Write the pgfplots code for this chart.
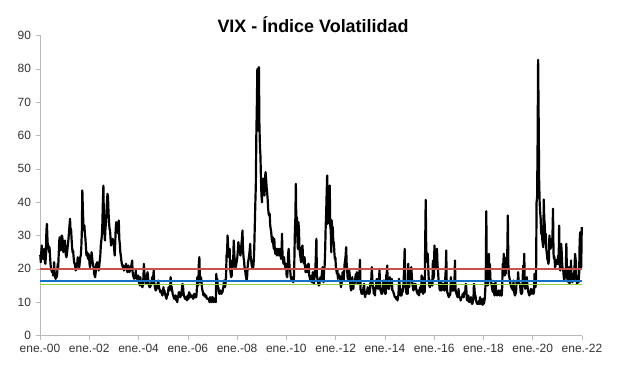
\documentclass[border=0pt]{standalone}
\usepackage{pgfplots}
\usepackage{pgfplotstable}
\pgfplotsset{compat=1.18}
\usepackage{fontspec}
\setmainfont{Liberation Sans}
\definecolor{lred}{RGB}{200,80,77}
\definecolor{lblue}{RGB}{20,115,200}
\definecolor{lgreen}{RGB}{146,208,60}
\definecolor{axgray}{RGB}{185,185,185}
% weekly VIX values (4 per month), Jan 2000 - Dec 2021
\pgfplotstableread[row sep=\\, header=false]{
24.2\\22.0\\25.0\\27.0\\ 23.5\\23.0\\25.5\\24.0\\ 26.0\\22.0\\21.5\\24.0\\ 31.5\\33.5\\29.0\\26.0\\
27.0\\25.0\\26.5\\24.0\\ 21.5\\20.0\\19.5\\19.0\\ 19.5\\18.0\\18.5\\22.0\\ 19.0\\17.5\\17.0\\17.5\\
17.5\\18.5\\21.5\\20.5\\ 24.5\\28.5\\29.5\\26.0\\ 25.5\\27.0\\30.0\\29.5\\ 27.5\\25.0\\28.0\\26.5\\
28.5\\26.0\\24.0\\23.5\\ 24.5\\26.0\\27.5\\29.0\\ 31.0\\33.0\\35.0\\31.5\\ 32.0\\29.0\\26.5\\25.0\\
25.5\\23.5\\22.0\\21.5\\ 21.0\\19.5\\21.5\\20.5\\ 21.5\\23.5\\21.5\\21.0\\ 20.5\\22.0\\23.5\\24.0\\
26.5\\31.0\\43.5\\38.0\\ 33.5\\31.5\\33.0\\30.5\\ 29.0\\26.5\\24.0\\25.0\\ 24.5\\23.0\\24.5\\23.8\\
21.5\\20.5\\22.0\\23.0\\ 25.0\\23.5\\22.0\\21.0\\ 20.5\\18.5\\18.0\\17.5\\ 19.0\\21.5\\20.0\\22.0\\
21.5\\20.5\\19.5\\21.0\\ 22.5\\24.0\\27.0\\28.5\\ 30.0\\33.5\\40.0\\45.0\\ 35.0\\31.0\\28.5\\32.0\\
34.0\\37.0\\40.0\\42.5\\ 41.5\\37.0\\34.0\\32.0\\ 31.5\\29.0\\27.0\\28.0\\ 27.5\\29.0\\28.0\\28.5\\
26.0\\24.0\\27.5\\32.0\\ 34.0\\33.5\\31.0\\33.0\\ 30.5\\34.5\\29.0\\27.5\\ 25.0\\24.0\\22.5\\21.5\\
21.0\\20.5\\21.0\\19.5\\ 20.0\\20.5\\20.0\\21.5\\ 21.0\\19.5\\19.0\\20.5\\ 21.0\\19.5\\19.0\\20.0\\
19.5\\20.5\\21.5\\22.5\\ 19.0\\18.0\\17.5\\17.0\\ 18.0\\17.5\\19.5\\17.5\\ 17.0\\17.5\\17.0\\18.0\\
16.5\\15.5\\15.0\\17.5\\ 16.0\\15.5\\15.0\\14.5\\ 15.0\\17.5\\21.5\\18.5\\ 17.0\\16.5\\15.5\\16.5\\
18.0\\19.0\\17.5\\15.5\\ 15.0\\14.5\\14.5\\15.0\\ 15.5\\16.0\\17.5\\15.5\\ 17.5\\19.5\\16.0\\15.0\\
14.0\\13.5\\14.0\\14.0\\ 15.5\\15.0\\16.5\\15.0\\ 14.0\\13.5\\13.0\\13.5\\ 13.0\\12.5\\12.0\\13.0\\
14.5\\13.0\\13.5\\12.5\\ 12.0\\11.5\\11.0\\12.5\\ 12.0\\13.0\\14.5\\14.0\\ 13.5\\14.0\\17.5\\15.0\\
14.5\\13.5\\12.5\\12.0\\ 11.5\\11.0\\11.5\\12.0\\ 12.0\\10.5\\10.5\\10.0\\ 11.5\\12.0\\13.0\\13.0\\
11.5\\11.5\\12.5\\12.0\\ 14.0\\15.5\\15.0\\13.0\\ 12.0\\11.5\\11.0\\11.0\\ 11.5\\11.0\\10.5\\12.0\\
11.5\\11.0\\13.0\\12.5\\ 12.5\\11.5\\12.0\\11.5\\ 12.0\\11.5\\11.0\\11.5\\ 12.5\\11.5\\11.5\\11.5\\
11.5\\13.5\\17.5\\16.0\\ 15.0\\21.5\\23.5\\17.0\\ 16.0\\17.5\\16.5\\14.5\\ 13.5\\13.0\\12.0\\12.5\\
12.5\\12.0\\11.5\\12.0\\ 11.5\\11.0\\11.0\\11.0\\ 11.0\\10.5\\10.0\\11.5\\ 11.0\\10.5\\10.0\\11.5\\
11.5\\10.5\\10.0\\11.0\\ 11.0\\10.5\\10.0\\18.5\\ 15.5\\17.0\\14.5\\14.5\\ 13.0\\12.5\\12.5\\13.5\\
13.0\\12.5\\13.0\\13.0\\ 14.0\\14.5\\16.5\\15.5\\ 14.5\\15.5\\18.0\\24.0\\ 25.0\\30.0\\26.5\\23.5\\
24.0\\26.0\\20.0\\18.5\\ 17.5\\18.0\\22.5\\20.5\\ 23.0\\28.5\\24.5\\22.5\\ 20.5\\20.5\\21.5\\22.5\\
23.5\\25.5\\28.0\\26.5\\ 26.0\\25.0\\24.0\\25.5\\ 27.5\\29.0\\31.5\\26.0\\ 23.5\\22.5\\20.5\\20.0\\
18.5\\17.5\\16.5\\17.5\\ 20.5\\22.0\\23.0\\24.0\\ 25.5\\27.5\\23.5\\22.5\\ 21.0\\20.5\\20.0\\20.5\\
22.5\\26.5\\33.0\\39.5\\ 45.0\\60.0\\69.0\\80.0\\ 61.5\\66.0\\80.5\\63.0\\ 57.0\\54.0\\47.0\\42.0\\
40.0\\45.0\\47.0\\45.0\\ 43.5\\42.0\\47.5\\49.0\\ 47.0\\44.5\\43.0\\41.0\\ 38.0\\36.5\\36.0\\36.5\\
33.0\\32.0\\31.0\\29.0\\ 28.0\\29.5\\27.5\\26.0\\ 29.0\\25.5\\24.5\\25.0\\ 26.0\\24.0\\25.5\\26.0\\
25.5\\24.0\\25.5\\26.0\\ 25.5\\23.0\\23.5\\30.5\\ 24.0\\22.5\\21.5\\23.5\\ 21.5\\21.0\\20.0\\21.5\\
18.0\\17.5\\19.5\\24.5\\ 26.0\\22.5\\20.0\\19.5\\ 17.5\\17.0\\16.5\\17.5\\ 16.5\\16.0\\16.5\\22.0\\
30.5\\35.0\\45.5\\32.0\\ 35.5\\29.0\\26.0\\34.0\\ 32.0\\26.0\\24.5\\23.5\\ 22.0\\25.0\\26.5\\27.0\\
22.5\\22.0\\21.5\\23.5\\ 20.5\\19.0\\19.5\\21.0\\ 19.0\\20.5\\21.5\\21.5\\ 18.0\\17.5\\16.5\\17.8\\
17.5\\16.0\\17.5\\19.0\\ 16.5\\15.5\\17.0\\19.0\\ 20.0\\24.0\\29.0\\18.0\\ 17.0\\16.0\\15.5\\15.0\\
15.5\\17.0\\17.5\\17.0\\ 17.5\\19.0\\20.5\\16.5\\ 16.0\\19.5\\20.5\\25.0\\ 32.0\\36.5\\42.5\\48.0\\
33.5\\38.5\\41.0\\42.5\\ 45.0\\33.0\\31.5\\25.0\\ 34.5\\30.0\\32.5\\27.5\\ 28.0\\25.0\\23.0\\23.4\\
20.5\\19.5\\18.5\\19.5\\ 17.0\\18.5\\17.5\\18.0\\ 17.5\\15.5\\14.5\\15.5\\ 16.5\\19.0\\18.0\\16.5\\
19.0\\21.5\\22.5\\24.0\\ 26.5\\21.5\\19.5\\17.0\\ 17.0\\16.5\\19.5\\18.0\\ 15.5\\14.0\\13.5\\15.0\\
17.5\\15.0\\14.0\\16.0\\ 15.5\\16.0\\17.5\\18.5\\ 17.5\\19.0\\15.5\\15.5\\ 16.5\\17.5\\19.5\\22.7\\
13.8\\13.5\\12.5\\13.0\\ 12.5\\13.5\\14.5\\15.5\\ 12.5\\11.5\\13.0\\12.5\\ 12.5\\13.5\\14.5\\13.5\\
12.5\\12.5\\13.0\\15.5\\ 16.0\\17.0\\20.5\\17.0\\ 14.5\\14.0\\12.5\\13.5\\ 12.0\\14.5\\14.0\\16.5\\
17.0\\14.5\\14.0\\15.5\\ 16.5\\20.0\\14.5\\13.5\\ 13.0\\12.5\\12.5\\13.5\\ 15.5\\16.5\\13.5\\13.5\\
12.5\\12.5\\18.0\\18.5\\ 21.0\\15.5\\14.0\\14.0\\ 14.0\\17.5\\15.0\\15.0\\ 15.5\\17.0\\13.5\\13.5\\
13.0\\12.5\\12.0\\11.5\\ 11.5\\11.0\\11.5\\11.5\\ 10.5\\11.5\\12.5\\17.0\\ 15.5\\13.5\\12.0\\12.0\\
12.0\\14.0\\13.0\\15.0\\ 16.0\\21.0\\26.0\\16.0\\ 14.0\\13.0\\12.5\\13.0\\ 12.5\\21.5\\17.5\\14.5\\
19.5\\17.0\\19.5\\20.5\\ 17.5\\15.5\\14.5\\13.5\\ 15.0\\15.5\\14.0\\15.5\\ 14.5\\13.5\\13.0\\12.5\\
13.5\\12.5\\12.0\\13.5\\ 14.5\\14.0\\13.0\\18.0\\ 17.0\\17.5\\12.5\\13.5\\ 13.5\\13.0\\28.0\\40.7\\
26.0\\23.5\\22.0\\24.5\\ 20.0\\16.5\\15.0\\14.5\\ 15.0\\16.5\\15.5\\15.5\\ 15.0\\22.5\\17.0\\18.0\\
27.0\\24.0\\22.5\\20.5\\ 23.5\\26.0\\21.0\\19.5\\ 16.5\\16.0\\14.0\\13.5\\ 14.0\\16.0\\13.5\\14.5\\
15.5\\14.5\\15.0\\13.5\\ 13.5\\17.0\\19.5\\25.5\\ 14.5\\13.0\\12.5\\12.0\\ 11.5\\12.5\\12.0\\12.5\\
17.5\\15.5\\13.5\\13.5\\ 13.5\\16.0\\13.5\\16.0\\ 22.5\\14.0\\13.0\\12.5\\ 12.0\\11.5\\11.5\\14.0\\
11.5\\11.5\\11.5\\10.5\\ 11.0\\11.5\\11.5\\12.5\\ 11.5\\11.5\\13.0\\12.5\\ 13.0\\15.5\\14.5\\11.0\\
10.5\\10.5\\12.0\\10.5\\ 10.0\\10.5\\10.5\\11.5\\ 11.0\\9.5\\9.5\\10.5\\ 11.0\\15.5\\14.0\\11.5\\
12.0\\10.5\\10.0\\9.5\\ 9.5\\10.0\\9.5\\10.5\\ 9.5\\11.5\\9.5\\11.0\\ 10.0\\9.5\\9.2\\11.0\\
9.5\\10.0\\11.0\\13.5\\ 17.5\\37.3\\19.5\\16.5\\ 15.0\\16.5\\24.5\\20.0\\ 21.5\\17.0\\16.5\\15.5\\
14.5\\13.5\\13.0\\15.5\\ 13.0\\12.0\\13.5\\16.0\\ 13.5\\12.5\\12.0\\13.0\\ 13.0\\13.5\\12.5\\12.0\\
13.5\\12.5\\12.0\\12.0\\ 14.5\\21.5\\19.5\\24.5\\ 19.5\\18.0\\22.5\\18.5\\ 23.5\\21.5\\25.5\\36.0\\
21.5\\18.0\\17.5\\16.5\\ 15.5\\15.0\\14.5\\14.0\\ 14.5\\13.5\\16.5\\13.5\\ 12.5\\12.0\\12.5\\13.0\\
16.0\\16.0\\15.5\\19.0\\ 16.5\\15.5\\15.5\\15.0\\ 13.0\\12.5\\12.5\\13.0\\ 17.5\\21.0\\18.5\\24.5\\
15.0\\14.0\\15.0\\16.0\\ 17.5\\15.0\\14.0\\13.0\\ 12.5\\12.0\\12.5\\12.5\\ 14.0\\13.5\\12.5\\13.8\\
13.5\\12.5\\13.0\\18.5\\ 16.0\\14.5\\17.0\\40.0\\ 41.5\\57.5\\82.7\\66.0\\ 46.5\\40.0\\37.0\\35.0\\
30.5\\32.0\\29.0\\27.5\\ 26.5\\40.8\\35.0\\33.0\\ 27.5\\30.5\\26.0\\24.5\\ 23.0\\22.5\\21.5\\22.5\\
30.0\\26.5\\26.0\\26.5\\ 29.0\\27.0\\30.0\\38.0\\ 24.5\\23.0\\23.5\\20.5\\ 21.0\\22.0\\21.5\\22.8\\
21.5\\24.0\\21.5\\33.0\\ 21.5\\19.5\\22.0\\27.5\\ 25.0\\21.0\\20.0\\19.5\\ 17.5\\16.5\\17.5\\18.5\\
19.0\\27.5\\20.5\\17.0\\ 16.5\\16.0\\20.5\\15.5\\ 16.0\\16.5\\22.5\\18.0\\ 17.5\\16.0\\18.5\\16.5\\
17.0\\20.5\\24.5\\23.0\\ 21.0\\16.5\\15.5\\16.5\\ 16.5\\16.0\\18.5\\28.5\\ 31.0\\21.0\\20.5\\32.5\\
}\vixdata
\begin{document}
\begin{tikzpicture}
\useasboundingbox (-40bp,-40.5bp) rectangle (577bp,335.5bp);
\begin{axis}[
  at={(0,0)}, anchor=origin,
  scale only axis, width=542bp, height=300bp,
  xmin=0, xmax=22, ymin=0, ymax=90,
  axis x line*=bottom, axis y line*=left,
  axis line style={axgray, line width=0.6pt},
  tick style={axgray, line width=0.6pt},
  tick align=outside, major tick length=4bp,
  xtick={0,2,...,22},
  xticklabels={ene.-00,ene.-02,ene.-04,ene.-06,ene.-08,ene.-10,ene.-12,ene.-14,ene.-16,ene.-18,ene.-20,ene.-22},
  ytick={0,10,...,90},
  ticklabel style={font=\fontsize{12}{14}\selectfont, text=black!80},
  yticklabel style={xshift=-1.5bp},
  xticklabel style={yshift=-1bp},
  /pgf/number format/assume math mode=true,
  clip=false,
]
\addplot[black, line width=2.2pt, line join=round, no markers]
  table[x expr={(\coordindex+0.5)/48}, y index=0] {\vixdata};
\addplot[lred, line width=1.6pt, no markers] coordinates {(0,20) (22,20)};
\addplot[lblue, line width=1.6pt, no markers] coordinates {(0,16.4) (22,16.4)};
\addplot[lgreen, line width=1.6pt, no markers] coordinates {(0,15.3) (22,15.3)};
\end{axis}
\node[font=\bfseries\fontsize{18}{20}\selectfont] at (273bp,311bp) {VIX - Índice Volatilidad};
\end{tikzpicture}
\end{document}
